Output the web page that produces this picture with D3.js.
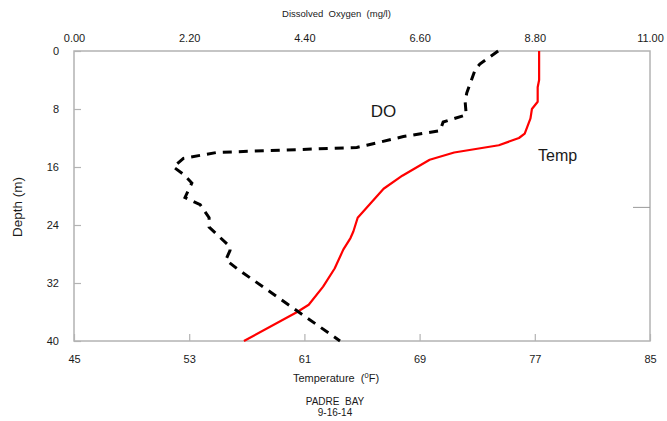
<!DOCTYPE html>
<html>
<head>
<meta charset="utf-8">
<script src="https://cdn.jsdelivr.net/npm/d3@7"></script>
<style>
  html, body { margin: 0; padding: 0; background: #fff; }
  svg { display: block; font-family: "Liberation Sans", Arial, sans-serif; }
  text { white-space: pre; }
</style>
</head>
<body>
<svg id="chart" width="667" height="421"></svg>
<script>
// ---- data ----
const tempDepth = [0, 4, 5, 7, 8, 9.3, 11.4, 12, 13, 14, 15, 17.2, 19, 21, 23, 24.9, 25.8, 27.4, 30, 32.5, 35, 36, 40];
const tempValue = [77.3, 77.3, 77.2, 77.2, 76.8, 76.7, 76.3, 75.9, 74.5, 71.4, 69.7, 67.8, 66.5, 65.6, 64.7, 64.4, 64.2, 63.7, 63.1, 62.3, 61.3, 60.5, 56.8];

const doDepth = [0, 1.8, 2.6, 5.8, 7, 8.8, 9.8, 11, 11.8, 13, 13.3, 14, 14.8, 16, 17, 18.2, 20.2, 21.2, 23, 24.3, 27, 27.5, 28.8, 30, 40];
const doValue = [8.10, 7.75, 7.66, 7.50, 7.47, 7.49, 7.05, 6.99, 6.29, 5.59, 5.40, 2.72, 2.09, 1.90, 2.09, 2.25, 2.12, 2.41, 2.58, 2.58, 2.98, 2.98, 2.90, 3.11, 5.08];

const depthTicks = [0, 8, 16, 24, 32, 40];
const tempTicks = [45, 53, 61, 69, 77, 85];
const doTicks = [0, 2.2, 4.4, 6.6, 8.8, 11];

const titleTop = "Dissolved  Oxygen  (mg/l)";
const titleBottom = "Temperature  (";
const titleLeft = "Depth (m)";
const caption1 = "PADRE  BAY";
const caption2 = "9-16-14";

// ---- layout ----
const L = 74, R = 650, T = 51, B = 341;
const svg = d3.select("#chart");

const y = d3.scaleLinear().domain([0, 40]).range([T, B]);
const xT = d3.scaleLinear().domain([45, 85]).range([L, R]);
const xDO = d3.scaleLinear().domain([0, 11]).range([L, R]);

const axisColor = "#b3b3b3";
const textColor = "#1a1a1a";

// frame
svg.append("rect")
  .attr("x", L).attr("y", T).attr("width", R - L).attr("height", B - T)
  .attr("fill", "none").attr("stroke", axisColor).attr("stroke-width", 1.5);

function styleAxis(g, size) {
  g.select(".domain").remove();
  g.selectAll(".tick line").attr("stroke", axisColor).attr("stroke-width", 1.2);
  g.selectAll(".tick text").attr("fill", textColor)
    .style("font-size", size + "px");
}

// top axis (DO)
svg.append("g").attr("transform", `translate(0,${T})`)
  .call(d3.axisTop(xDO).tickValues(doTicks).tickSize(0).tickPadding(9).tickFormat(d3.format(".2f")))
  .call(g => styleAxis(g, 11));

// bottom axis (Temp)
svg.append("g").attr("transform", `translate(0,${B})`)
  .call(d3.axisBottom(xT).tickValues(tempTicks).tickSizeInner(-7).tickSizeOuter(0).tickPadding(14).tickFormat(d3.format("d")))
  .call(g => styleAxis(g, 11));

// left axis (Depth)
svg.append("g").attr("transform", `translate(${L},0)`)
  .call(d3.axisLeft(y).tickValues(depthTicks).tickSizeInner(-7).tickSizeOuter(0).tickPadding(15).tickFormat(d3.format("d")))
  .call(g => styleAxis(g, 11));

// small stray mark on right axis
svg.append("g").attr("transform", `translate(${R},0)`)
  .call(d3.axisLeft(y).tickValues([21.5]).tickSize(17).tickFormat(""))
  .call(g => { g.select(".domain").remove(); g.selectAll(".tick line").attr("stroke", "#999").attr("stroke-width", 1); });

// lines
const tempData = tempDepth.map((d, i) => ({ d, v: tempValue[i] }));
const doData = doDepth.map((d, i) => ({ d, v: doValue[i] }));

svg.append("path").datum(tempData)
  .attr("fill", "none").attr("stroke", "#ff0000").attr("stroke-width", 2.2)
  .attr("stroke-linejoin", "round")
  .attr("d", d3.line().x(p => xT(p.v)).y(p => y(p.d)));

svg.append("path").datum(doData)
  .attr("fill", "none").attr("stroke", "#000").attr("stroke-width", 3)
  .attr("stroke-dasharray", "9,7")
  .attr("d", d3.line().x(p => xDO(p.v)).y(p => y(p.d)));

// curve labels
svg.append("text").attr("x", xDO(5.91)).attr("y", y(9.1))
  .attr("text-anchor", "middle").attr("fill", textColor)
  .style("font-size", "17px").text("DO");
svg.append("text").attr("x", xT(78.58)).attr("y", y(15.17))
  .attr("text-anchor", "middle").attr("fill", textColor)
  .style("font-size", "16px").text("Temp");

// titles
svg.append("text").attr("x", 336.5).attr("y", 16.7)
  .attr("text-anchor", "middle").attr("fill", textColor)
  .style("font-size", "9.5px").text(titleTop);

const tb = svg.append("text").attr("x", 336).attr("y", 382)
  .attr("text-anchor", "middle").attr("fill", textColor)
  .style("font-size", "11px");
tb.append("tspan").text(titleBottom);
tb.append("tspan").attr("dy", -4).style("font-size", "7.5px").text("0");
tb.append("tspan").attr("dy", 4).text("F)");

svg.append("text")
  .attr("transform", "translate(22,207) rotate(-90)")
  .attr("text-anchor", "middle").attr("fill", textColor)
  .style("font-size", "13.5px").text(titleLeft);

svg.append("text").attr("x", 335).attr("y", 404.5)
  .attr("text-anchor", "middle").attr("fill", textColor)
  .style("font-size", "10px").text(caption1);
svg.append("text").attr("x", 335).attr("y", 416)
  .attr("text-anchor", "middle").attr("fill", textColor)
  .style("font-size", "10px").text(caption2);
</script>
</body>
</html>
